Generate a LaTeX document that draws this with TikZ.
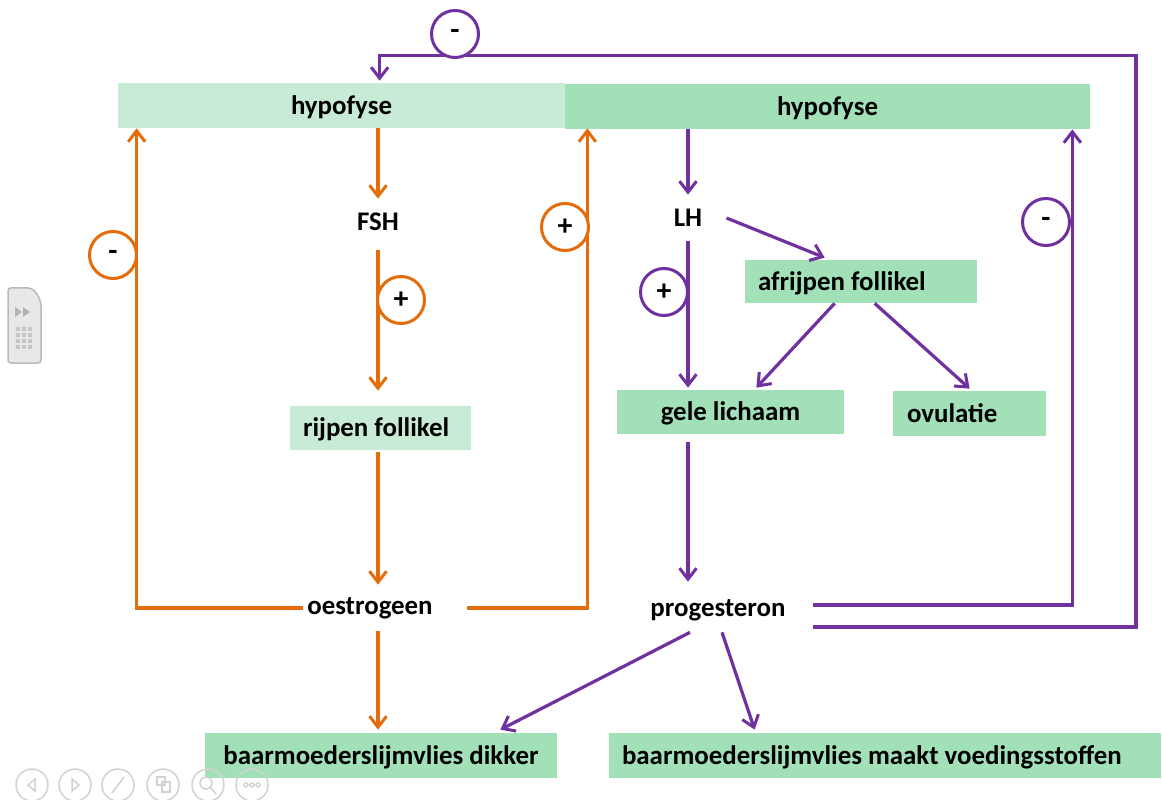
\documentclass[tikz,border=0pt]{standalone}
\usepackage{fontspec}
\setmainfont{Carlito}
\usetikzlibrary{arrows.meta,positioning,calc}
\definecolor{CycOrange}{HTML}{E46C0A}
\definecolor{CycPurple}{HTML}{7030A0}
\definecolor{CycLight}{HTML}{C7EBD5}
\definecolor{CycGreen}{HTML}{A2E0B8}
\definecolor{CycGrey}{HTML}{D2D2D2}
\newcommand{\pxu}{0.02cm}
\newcommand{\lefttext}[2]{\makebox[\dimexpr\pxu*#1\relax][l]{#2}}

\begin{document}
\begin{tikzpicture}[x=0.02cm,y=-0.02cm,
  font=\fontsize{15.3}{18}\selectfont\bfseries,
  gbox/.style={fill=#1,inner ysep=0pt,minimum height=45*\pxu,text depth=1.5*\pxu},
  tag/.style={inner ysep=0pt,inner xsep=4*\pxu,minimum height=46*\pxu},
  oarr/.style={draw=CycOrange,line width=3.2*\pxu,-{Straight Barb[length=11*\pxu,width=17*\pxu,line width=3*\pxu]}},
  parr/.style={draw=CycPurple,line width=3.2*\pxu,-{Straight Barb[length=11*\pxu,width=17*\pxu,line width=3*\pxu]}},
  sign/.style={draw=#1,circle,line width=3*\pxu,minimum size=47*\pxu,inner sep=0pt,fill=white,font=\fontsize{17}{18}\selectfont\bfseries},
  uibtn/.style={draw=CycGrey,line width=1.5*\pxu}]
\useasboundingbox (0,0) rectangle (1162,800);
% boxes
\node[gbox=CycLight,minimum width=447*\pxu] (hypL) at (341.5,105.5) {hypofyse};
\node[gbox=CycGreen,minimum width=525*\pxu] (hypR) at (827.5,106.5) {hypofyse};
\node[gbox=CycLight,inner xsep=13*\pxu,minimum height=44*\pxu] (rijpen) at (380.5,428) {\lefttext{155}{rijpen follikel}};
\node[gbox=CycGreen,inner xsep=13*\pxu,minimum height=43*\pxu] (afrijpen) at (861,281.5) {\lefttext{206}{afrijpen follikel}};
\node[gbox=CycGreen,minimum width=227*\pxu,minimum height=44*\pxu] (gele) at (730.5,412) {gele lichaam};
\node[gbox=CycGreen,inner xsep=14*\pxu] (ovul) at (969.5,413.5) {\lefttext{125}{ovulatie}};
\node[gbox=CycGreen,minimum width=352*\pxu] (dikker) at (381,755.5) {baarmoederslijmvlies dikker};
\node[gbox=CycGreen,inner xsep=13*\pxu] (maakt) at (885,755.5) {\lefttext{526}{baarmoederslijmvlies maakt voedingsstoffen}};
% hormonen
\node[tag] (fsh) at (378,222) {FSH};
\node[tag] (lh) at (688,218) {LH};
\node[tag] (oes) at (370,608) {oestrogeen};
\node[tag,minimum height=56*\pxu] (proge) at (718,610) {progesteron};
% oranje
\draw[oarr] (hypL.south -| fsh) -- (fsh.north);
\draw[oarr,shorten <=5*\pxu,shorten >=15*\pxu] (fsh.south) -- (rijpen.north -| fsh);
\draw[oarr,shorten <=2*\pxu] (rijpen.south -| fsh) -- (oes.north -| fsh);
\draw[oarr,shorten >=3*\pxu] (oes.south -| fsh) -- (dikker.north -| fsh);
\draw[oarr] (oes.west) -| ($(hypL.south west)+(19,0)$);
\draw[oarr] ($(oes.east)+(30,0)$) -| ($(hypL.south east)+(22,0)$);
\node[sign=CycOrange] (m1) at (113,255) {-};
\node[sign=CycOrange] (p1) at (401,300) {+};
\node[sign=CycOrange] (p2) at (565,227) {+};
% paars
\draw[parr] (hypR.south -| lh) -- (lh.north);
\draw[parr] ($(lh.east)+(20,0)$) -- ($(afrijpen.north west)+(80,-2)$);
\draw[parr,shorten >=2*\pxu] (lh.south) -- (gele.north -| lh);
\draw[parr] ($(afrijpen.south west)+(90,0)$) -- ($(gele.north east)+(-88,-2)$);
\draw[parr] ($(afrijpen.south west)+(130,0)$) -- ($(ovul.north west)+(77,-2)$);
\draw[parr,shorten <=8*\pxu] (gele.south -| lh) -- (proge.north -| lh);
\draw[parr] ($(proge.east)+(23,-5)$) -| ($(hypR.south east)+(-18,0)$);
\draw[parr] ($(proge.east)+(23,17)$) -- ++(323,0) |- ($(hypL.north west)+(262,-27)$) -- ($(hypL.north west)+(262,-2)$);
\draw[parr] ($(proge.south)+(-28,-6)$) -- ($(dikker.north east)+(-57,-3)$);
\draw[parr] ($(proge.south)+(4,-6)$) -- ($(maakt.north west)+(146,-3)$);
\node[sign=CycPurple] (m2) at (455,34) {-};
\node[sign=CycPurple] (p3) at (664,292) {+};
\node[sign=CycPurple] (m3) at (1046,222) {-};
% schermknoppen
\draw[fill=gray!18,draw=gray!55,line width=1.5*\pxu,rounded corners=3*\pxu]
  (8,288) -- (31,288) [rounded corners=9*\pxu] -- (41,297) [rounded corners=3*\pxu] -- (41,363) -- (8,363) -- cycle;
\fill[gray!60] (15,307) -- (22,312) -- (15,317) -- cycle (23,307) -- (30,312) -- (23,317) -- cycle;
\foreach \r in {0,...,3}
  \foreach \c in {0,...,2}
    \fill[gray!45] ({16+\c*6},{327+\r*6}) rectangle ++(4,4);
\foreach \bx in {32,75,118,163,208,252}
  \draw[uibtn] (\bx,785) circle (16);
\draw[uibtn] (35,779) -- (28,785) -- (35,791) -- cycle;
\draw[uibtn] (72,779) -- (79,785) -- (72,791) -- cycle;
\draw[uibtn] (112,793) -- (124,777);
\draw[uibtn] (157,777) rectangle (165,785) (162,782) rectangle (170,792);
\draw[uibtn] (206,783) circle (6) (210,787) -- (216,794);
\foreach \dx in {-6,0,6}
  \draw[uibtn] ({252+\dx},785) circle (2);
\end{tikzpicture}
\end{document}
